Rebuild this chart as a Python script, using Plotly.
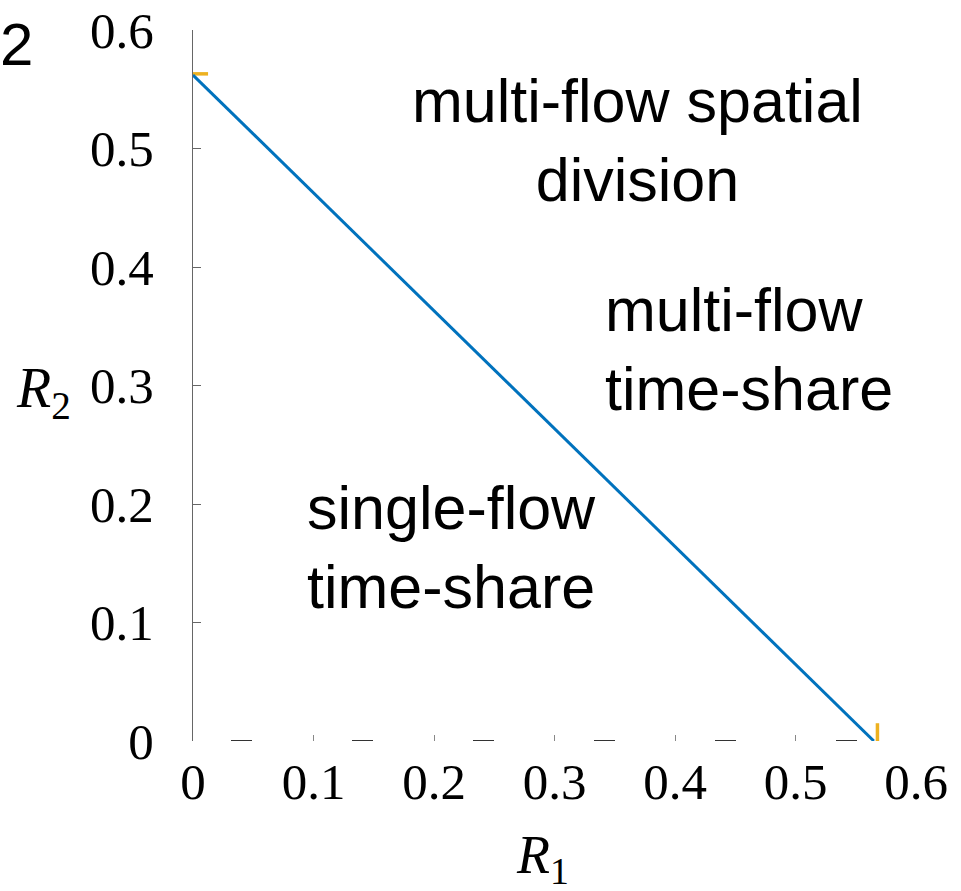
import plotly.graph_objects as go

# data
blue_x = [0.0, 0.565]
blue_y = [0.562, 0.0]
orange_x = [0.0, 0.0125, None, 0.568, 0.568]
orange_y = [0.563, 0.563, None, 0.0, 0.015]
tick_vals = [0, 0.1, 0.2, 0.3, 0.4, 0.5, 0.6]
tick_text = ["0", "0.1", "0.2", "0.3", "0.4", "0.5", "0.6"]
base_x = [0.0, 0.6]
base_y = [0.0, 0.0]

region_labels = ["multi-flow spatial<br>division", "multi-flow<br>time-share", "single-flow<br>time-share"]
region_x = [0.369, 0.340, 0.093]
region_y = [0.507, 0.330, 0.163]
region_anchor = ["center", "left", "left"]

L, R, T, B = 193, 45, 30, 150
W, H = 961, 891
PW, PH = W - L - R, H - T - B


def px(xp):
    return (xp - L) / PW


def py(yp):
    return (H - B - yp) / PH


fig = go.Figure()
fig.add_trace(go.Scatter(x=base_x, y=base_y, mode="lines",
                         line=dict(color="#333333", width=2, dash="0px,38px,21px,62px"),
                         hoverinfo="skip", showlegend=False))
fig.add_trace(go.Scatter(x=orange_x, y=orange_y, mode="lines",
                         line=dict(color="#EDB120", width=3.5), showlegend=False))
fig.add_trace(go.Scatter(x=blue_x, y=blue_y, mode="lines",
                         line=dict(color="#0072BD", width=3), showlegend=False))

for t, x, y, a in zip(region_labels, region_x, region_y, region_anchor):
    fig.add_annotation(x=x, y=y, xref="x", yref="y", text=t, showarrow=False,
                       xanchor=a, yanchor="middle", align=a,
                       font=dict(family="Liberation Sans, Arial", size=61, color="black"))

fig.add_annotation(x=px(-2), y=py(45), xref="paper", yref="paper", text="2", showarrow=False,
                   xanchor="left", yanchor="middle",
                   font=dict(family="Liberation Sans, Arial", size=60, color="black"))

fig.add_annotation(x=px(14), y=py(392), xref="paper", yref="paper", text="<i>R</i><sub>2</sub>",
                   showarrow=False, xanchor="left", yanchor="middle",
                   font=dict(family="Liberation Serif, Times New Roman", size=56, color="black"))

fig.add_annotation(x=px(514), y=py(858), xref="paper", yref="paper", text="<i>R</i><sub>1</sub>",
                   showarrow=False, xanchor="left", yanchor="middle",
                   font=dict(family="Liberation Serif, Times New Roman", size=54, color="black"))

fig.update_layout(
    width=W, height=H,
    margin=dict(l=L, r=R, t=T, b=B),
    plot_bgcolor="white", paper_bgcolor="white",
    xaxis=dict(range=[0, 0.6], tickvals=tick_vals, ticktext=tick_text, showgrid=False, zeroline=False,
               showline=False, ticks="inside", ticklen=6, tickcolor="#888888", tickwidth=1,
               automargin=False,
               tickfont=dict(family="Liberation Serif, Times New Roman", size=51, color="black"),
               ticklabelstandoff=6),
    yaxis=dict(range=[0, 0.6], tickvals=tick_vals, ticktext=tick_text, showgrid=False, zeroline=False,
               showline=True, linecolor="#666666", linewidth=1, ticks="inside", ticklen=8,
               tickcolor="#666666", tickwidth=1, automargin=False,
               tickfont=dict(family="Liberation Serif, Times New Roman", size=51, color="black"),
               ticklabelstandoff=28),
)

fig.write_html("out.html")
